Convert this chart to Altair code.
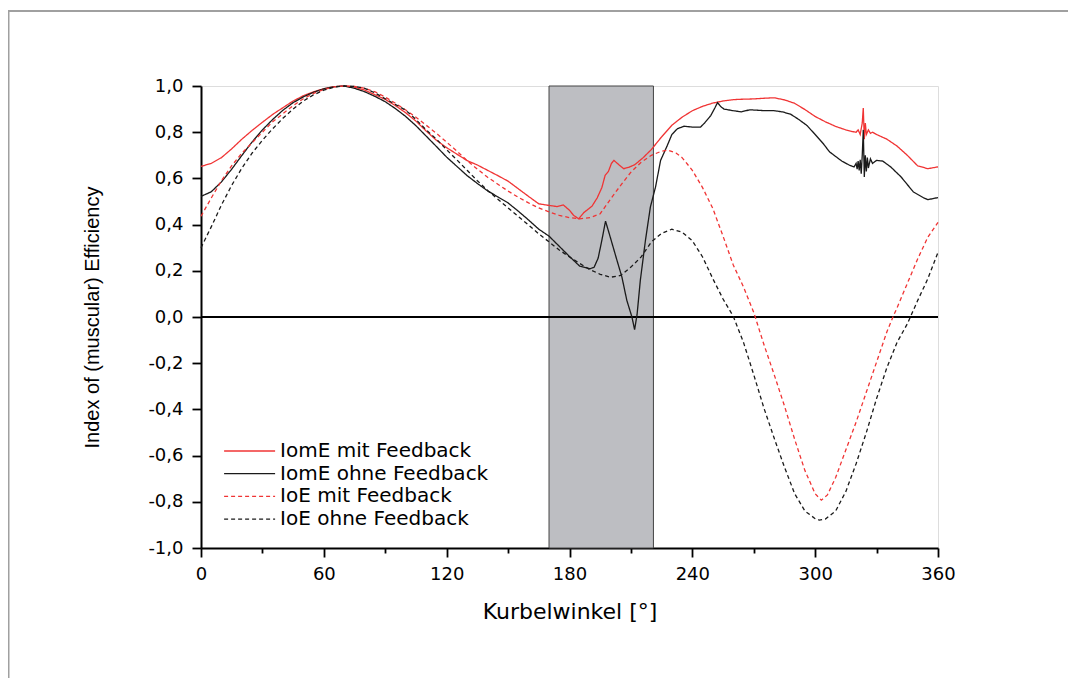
import altair as alt
import pandas as pd

SERIES = ["IomE mit Feedback", "IomE ohne Feedback", "IoE mit Feedback", "IoE ohne Feedback"]
COLORS = ["#f03434", "#1a1a1a", "#f03434", "#1a1a1a"]
DASHES = [[1, 0], [1, 0], [4, 3], [4, 3]]

X_TICKS = [0, 30, 60, 90, 120, 150, 180, 210, 240, 270, 300, 330, 360]
Y_TICKS = [-1.0, -0.9, -0.8, -0.7, -0.6, -0.5, -0.4, -0.3, -0.2, -0.1, 0.0,
           0.1, 0.2, 0.3, 0.4, 0.5, 0.6, 0.7, 0.8, 0.9, 1.0]

BOX_X = [170, 221]
BOX_Y = [-1.0, 1.0]

# IomE mit Feedback (red solid)
iome_mit_x = [0, 5, 10, 15, 20, 25, 30, 35, 40, 45, 50, 55, 60, 65, 70, 75, 80, 85, 90, 95,
              100, 105, 110, 115, 120, 125, 130, 135, 140, 145, 150, 155, 160, 165, 170, 174,
              177, 180, 182, 184.5, 187, 191, 193.5, 195.8, 197.4, 199, 200.5, 201.7, 204,
              206.5, 209, 212, 216, 220, 225, 230, 235, 240, 245, 250, 255, 260, 265, 270,
              275, 280, 285, 290, 295, 300, 305, 310, 315, 318, 320, 321, 322, 323, 323.5,
              324, 324.5, 325, 326, 327, 328, 330, 335, 340, 345, 350, 355, 360]
iome_mit_y = [0.652, 0.665, 0.69, 0.728, 0.77, 0.808, 0.843, 0.877, 0.906, 0.935, 0.958, 0.975,
              0.988, 0.997, 1.0, 0.995, 0.982, 0.962, 0.942, 0.915, 0.884, 0.848, 0.805, 0.765,
              0.733, 0.705, 0.677, 0.658, 0.635, 0.612, 0.588, 0.555, 0.522, 0.49, 0.483, 0.478,
              0.485, 0.462, 0.44, 0.425, 0.452, 0.48, 0.515, 0.56, 0.613, 0.63, 0.665, 0.678,
              0.66, 0.642, 0.648, 0.66, 0.69, 0.725, 0.78, 0.83, 0.865, 0.893, 0.912, 0.926,
              0.935, 0.941, 0.943, 0.944, 0.947, 0.949, 0.94, 0.925, 0.898, 0.868, 0.845,
              0.825, 0.81, 0.803, 0.80, 0.81, 0.79, 0.84, 0.905, 0.77, 0.84, 0.79, 0.81,
              0.795, 0.80, 0.79, 0.77, 0.74, 0.70, 0.655, 0.642, 0.65]

# IomE ohne Feedback (black solid)
iome_ohne_x = [0, 5, 10, 15, 20, 25, 30, 35, 40, 45, 50, 55, 60, 65, 70, 75, 80, 85, 90, 95,
               100, 105, 110, 115, 120, 125, 130, 135, 140, 145, 150, 155, 160, 165, 170, 175,
               180, 185, 190, 192, 194, 195.8, 197.6, 199.9, 203.2, 205.6, 208, 210.5, 211.8,
               213, 214.6, 217.1, 219.5, 222, 224.5, 227.8, 230, 232.7, 236, 240, 244, 246,
               249, 251, 252.3, 254, 255.5, 260, 264, 268, 272, 276, 280, 284, 288, 292, 296,
               300, 304, 307, 310, 313, 317, 319, 320, 320.5, 321, 321.5, 322, 322.5, 323,
               323.5, 324, 324.5, 325, 325.5, 326, 327, 328, 330, 333, 337, 342, 348, 353,
               355, 360]
iome_ohne_y = [0.522, 0.542, 0.585, 0.64, 0.70, 0.758, 0.81, 0.855, 0.895, 0.928, 0.953, 0.973,
               0.988, 0.997, 1.0, 0.99, 0.975, 0.955, 0.932, 0.902, 0.868, 0.828, 0.783, 0.738,
               0.692, 0.652, 0.612, 0.578, 0.546, 0.52, 0.494, 0.458, 0.42, 0.38, 0.35, 0.306,
               0.262, 0.22, 0.209, 0.215, 0.255, 0.332, 0.415, 0.346, 0.245, 0.173, 0.072, 0.0,
               -0.055, 0.01, 0.159, 0.332, 0.476, 0.562, 0.678, 0.743, 0.79, 0.815, 0.826,
               0.822, 0.822, 0.84, 0.872, 0.905, 0.928, 0.91, 0.90, 0.893, 0.888, 0.897, 0.895,
               0.893, 0.893, 0.888, 0.878, 0.855, 0.829, 0.79, 0.75, 0.715, 0.695, 0.675,
               0.656, 0.65, 0.665, 0.64, 0.675, 0.635, 0.68, 0.62, 0.70, 0.81, 0.606, 0.70,
               0.63, 0.69, 0.645, 0.685, 0.665, 0.678, 0.675, 0.649, 0.606, 0.541, 0.516,
               0.508, 0.517]

# IoE mit Feedback (red dashed)
ioe_mit_x = [0, 5, 10, 15, 20, 25, 30, 35, 40, 45, 50, 55, 60, 65, 70, 75, 80, 85, 90, 95,
             100, 105, 110, 115, 120, 125, 130, 135, 140, 145, 150, 155, 160, 165, 170, 175,
             180, 185, 190, 195, 200, 205, 210, 215, 220, 225, 228, 232, 235, 240, 245, 250,
             255, 260, 265, 270, 275, 280, 285, 290, 295, 300, 303, 306, 310, 315, 320, 325,
             330, 335, 338, 340, 345, 350, 355, 360]
ioe_mit_y = [0.436, 0.515, 0.59, 0.655, 0.71, 0.755, 0.80, 0.845, 0.88, 0.915, 0.945, 0.968,
             0.985, 0.996, 1.0, 0.998, 0.99, 0.975, 0.952, 0.925, 0.896, 0.865, 0.83, 0.795,
             0.757, 0.718, 0.677, 0.64, 0.605, 0.575, 0.545, 0.518, 0.494, 0.472, 0.455, 0.44,
             0.43, 0.425, 0.43, 0.447, 0.51, 0.57, 0.627, 0.67, 0.70, 0.718, 0.722, 0.71, 0.69,
             0.635, 0.56, 0.47, 0.35, 0.225, 0.13, 0.02, -0.12, -0.25, -0.385, -0.53, -0.665,
             -0.765, -0.793, -0.77, -0.695, -0.575, -0.455, -0.325, -0.195, -0.065, 0.0, 0.04,
             0.145, 0.25, 0.345, 0.41]

# IoE ohne Feedback (black dashed)
ioe_ohne_x = [0, 5, 10, 15, 20, 25, 30, 35, 40, 45, 50, 55, 60, 65, 70, 75, 80, 85, 90, 95,
              100, 105, 110, 115, 120, 125, 130, 135, 140, 145, 150, 155, 160, 165, 170, 175,
              180, 185, 190, 195, 200, 205, 210, 215, 220, 225, 230, 235, 240, 245, 250, 255,
              260, 265, 270, 275, 280, 285, 290, 295, 300, 302, 305, 310, 315, 320, 325, 330,
              335, 340, 345, 350, 355, 360]
ioe_ohne_y = [0.30, 0.39, 0.485, 0.57, 0.645, 0.71, 0.765, 0.815, 0.86, 0.90, 0.935, 0.962,
              0.982, 0.995, 1.0, 0.998, 0.99, 0.97, 0.945, 0.92, 0.895, 0.855, 0.81, 0.77,
              0.724, 0.68, 0.635, 0.59, 0.548, 0.51, 0.472, 0.435, 0.398, 0.36, 0.325, 0.29,
              0.26, 0.232, 0.205, 0.185, 0.172, 0.18, 0.216, 0.26, 0.325, 0.362, 0.38, 0.367,
              0.33, 0.26, 0.166, 0.078, 0.003, -0.11, -0.25, -0.395, -0.525, -0.65, -0.765,
              -0.84, -0.873, -0.879, -0.875, -0.84, -0.755, -0.635, -0.50, -0.353, -0.22,
              -0.11, -0.03, 0.07, 0.165, 0.28]

W, H = 737, 462

rows = []
for name, xs, ys in [(SERIES[0], iome_mit_x, iome_mit_y), (SERIES[1], iome_ohne_x, iome_ohne_y),
                     (SERIES[2], ioe_mit_x, ioe_mit_y), (SERIES[3], ioe_ohne_x, ioe_ohne_y)]:
    for i, (a, b) in enumerate(zip(xs, ys)):
        rows.append({"series": name, "x": a, "y": b, "i": i})
df = pd.DataFrame(rows)

box_df = pd.DataFrame({"x0": [BOX_X[0]], "x1": [BOX_X[1]], "y0": [BOX_Y[0]], "y1": [BOX_Y[1]]})
zero_df = pd.DataFrame({"x0": [X_TICKS[0]], "x1": [X_TICKS[-1]], "y": [0.0]})

xscale = alt.Scale(domain=[X_TICKS[0], X_TICKS[-1]], nice=False, zero=False)
yscale = alt.Scale(domain=[Y_TICKS[0], Y_TICKS[-1]], nice=False, zero=False)

x_axis = alt.Axis(
    values=X_TICKS,
    labelExpr="datum.value % 60 === 0 ? datum.label : ''",
    tickSize={"condition": {"test": "datum.value % 60 === 0", "value": 9}, "value": 5},
    tickWidth=1.8, tickColor="black", domainColor="black", domainWidth=2,
    labelFont="DejaVu Sans", labelFontSize=18, labelColor="black", labelPadding=8,
    labelFlush=False, labelOverlap=False, grid=False,
    title="Kurbelwinkel [°]", titleFont="DejaVu Sans", titleFontSize=22,
    titleFontWeight="normal", titleColor="black", titleX=W / 2, titleY=70,
    titleBaseline="alphabetic", titleAlign="center",
)
y_axis = alt.Axis(
    values=Y_TICKS,
    labelExpr="round(datum.value*10) % 2 === 0 ? replace(replace(format(datum.value, '.1f'), '.', ','), '\u2212', '-') : ''",
    tickSize={"condition": {"test": "round(datum.value*10) % 2 === 0", "value": 9}, "value": 5},
    tickWidth=1.8, tickColor="black", domainColor="black", domainWidth=2,
    labelFont="DejaVu Sans", labelFontSize=18, labelColor="black", labelPadding=9,
    labelFlush=False, labelOverlap=False, grid=False,
    title="Index of (muscular) Efficiency", titleFont="Liberation Sans", titleFontSize=20,
    titleFontWeight="normal", titleColor="black", titleX=-103, titleY=H / 2,
    titleBaseline="alphabetic", titleAlign="center", titleAngle=270,
)

# wide horizontal line symbol (path extends beyond the unit square so rows stay compact)
legend = alt.Legend(
    title=None, orient="none", legendX=37.6, legendY=354,
    symbolType="M-2.5,0H2.5", symbolSize=416, symbolStrokeWidth=1.3,
    symbolFillColor="transparent",
    labelFont="DejaVu Sans", labelFontSize=20, labelColor="black", labelOffset=19.5,
    labelLimit=0, rowPadding=1.7,
)

box = alt.Chart(box_df).mark_rect(fill="#bdbec2", stroke="#444444", strokeWidth=1).encode(
    x=alt.X("x0:Q", scale=xscale, axis=x_axis),
    x2="x1:Q",
    y=alt.Y("y0:Q", scale=yscale, axis=y_axis),
    y2="y1:Q",
)

zero = alt.Chart(zero_df).mark_rule(color="black", strokeWidth=2).encode(
    x=alt.X("x0:Q", scale=xscale), x2="x1:Q", y=alt.Y("y:Q", scale=yscale)
)

lines = alt.Chart(df).mark_line(strokeWidth=1.3).encode(
    x=alt.X("x:Q", scale=xscale),
    y=alt.Y("y:Q", scale=yscale),
    color=alt.Color("series:N", scale=alt.Scale(domain=SERIES, range=COLORS), legend=legend),
    strokeDash=alt.StrokeDash("series:N", scale=alt.Scale(domain=SERIES, range=DASHES), legend=legend),
    order="i:Q",
)

frame_top = alt.Chart(box_df).mark_rule(color="#a0a0a0", strokeWidth=2).encode(
    x=alt.value(-193), x2=alt.value(W + 130), y=alt.value(-75)
)
frame_left = alt.Chart(box_df).mark_rule(color="#a0a0a0", strokeWidth=2).encode(
    x=alt.value(-192.5), y=alt.value(-76), y2=alt.value(H + 130)
)

chart = alt.layer(box, zero, lines, frame_top, frame_left).properties(
    width=W, height=H,
    autosize=alt.AutoSizeParams(type="none"),
    padding={"left": 193, "top": 78, "right": 130, "bottom": 130},
).configure_view(stroke=None).configure(background="white")

chart.save("out.html", embed_options={"renderer": "svg", "actions": False})
